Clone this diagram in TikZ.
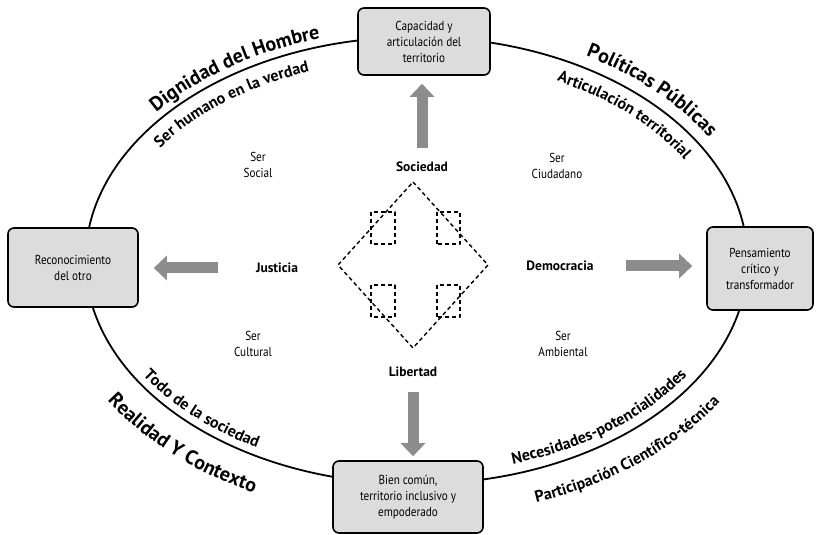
\documentclass[tikz,border=0pt]{standalone}
\usepackage{fontspec}
\setmainfont{PT Sans}
\newfontfamily\condfont{PT Sans}[FakeStretch=0.86]
\usetikzlibrary{arrows.meta,decorations.text}
\definecolor{boxgray}{HTML}{DCDCDC}
\definecolor{arrowgray}{HTML}{8C8C8C}
\newcommand{\bigcurvefont}{\bfseries\fontsize{20}{24}\selectfont}
\newcommand{\smallcurvefont}{\bfseries\fontsize{16}{19}\selectfont}

\begin{document}
\begin{tikzpicture}[x=1pt,y=1pt,line cap=butt,line join=round,
  box/.style={draw,line width=1.6pt,rounded corners=6pt,fill=boxgray,align=center,inner sep=2pt,font=\condfont\fontsize{13}{16}\selectfont},
  key/.style={inner sep=0pt,font=\bfseries\fontsize{13.5}{16}\selectfont},
  ser/.style={inner sep=0pt,align=center,font=\condfont\fontsize{13}{16}\selectfont},
  bigarrow/.style={arrowgray,line width=11pt,-{Triangle[width=24pt,length=13pt]}},
  dashline/.style={line width=1.4pt,dash pattern=on 4pt off 3pt},
  curvetext/.style={decorate,decoration={text along path,text align=center,text={#1}}}]
\useasboundingbox (0,0) rectangle (817,535);
% ellipse and the texts that follow it
\begin{scope}[shift={(416.5,274.5)}]
  \draw[line width=1.8pt] (0,0) ellipse [x radius=331pt,y radius=223.5pt];
  \path[curvetext={|\bigcurvefont|Dignidad del Hombre}] (152:339pt and 231.5pt) arc[start angle=152,end angle=97,x radius=339pt,y radius=231.5pt];
  \path[curvetext={|\smallcurvefont|Ser humano en la verdad}] (159:309pt and 201.5pt) arc[start angle=159,end angle=100.5,x radius=309pt,y radius=201.5pt];
  \path[curvetext={|\bigcurvefont|Políticas Públicas}] (70.3:343pt and 235.5pt) arc[start angle=70.3,end angle=19,x radius=343pt,y radius=235.5pt];
  \path[curvetext={|\smallcurvefont|Articulación territorial}] (73:309pt and 201.5pt) arc[start angle=73,end angle=16.5,x radius=309pt,y radius=201.5pt];
  \path[curvetext={|\smallcurvefont|Todo de la sociedad}] (199.4:323pt and 215.5pt) arc[start angle=199.4,end angle=250.3,x radius=323pt,y radius=215.5pt];
  \path[curvetext={|\bigcurvefont|Realidad Y Contexto}] (200:367pt and 259.5pt) arc[start angle=200,end angle=253.8,x radius=367pt,y radius=259.5pt];
  \path[curvetext={|\smallcurvefont|Necesidades-potencialidades}] (279:321pt and 213.5pt) arc[start angle=279,end angle=338.6,x radius=321pt,y radius=213.5pt];
  \path[curvetext={|\smallcurvefont|Participación Científico-técnica}] (281.3:364pt and 256.5pt) arc[start angle=281.3,end angle=336.4,x radius=364pt,y radius=256.5pt];
\end{scope}
% the four boxes
\node[box,minimum width=132pt,minimum height=67pt] (topbox) at (424,493.5) {Capacidad y\\articulación del\\territorio};
\node[box,minimum width=130pt,minimum height=79pt] (leftbox) at (73,267.5) {Reconocimiento\\del otro};
\node[box,minimum width=106pt,minimum height=83pt] (rightbox) at (760,266.5) {Pensamiento\\crítico y\\transformador};
\node[box,minimum width=150pt,minimum height=72pt] (bottombox) at (408,38) {Bien común,\\territorio inclusivo y\\empoderado};
% labels in the middle
\node[key] (soc) at (422,368) {Sociedad};
\node[key] (jus) at (277,267) {Justicia};
\node[key] (dem) at (560,269) {Democracia};
\node[key] (lib) at (413,163) {Libertad};
\node[ser] (sersocial) at (258,370) {Ser\\Social};
\node[ser] (serciudadano) at (557,369) {Ser\\Ciudadano};
\node[ser] (sercultural) at (253,191) {Ser\\Cultural};
\node[ser] (serambiental) at (563,191) {Ser\\Ambiental};
% dashed diamond with the four small squares
\draw[dashline] (413,353) -- (488,270) -- (413,187) -- (338,270) -- cycle;
\draw[dashline] (371,291) rectangle (395,323);
\draw[dashline] (437,291) rectangle (460,323);
\draw[dashline] (371,218) rectangle (395,250);
\draw[dashline] (437,218) rectangle (460,250);
% gray arrows
\draw[bigarrow,shorten <=14pt,shorten >=8pt] (soc.north) -- (soc.north |- topbox.south);
\draw[bigarrow,shorten <=15pt,shorten >=4pt] (lib.south) -- (lib.south |- bottombox.north);
\draw[bigarrow,shorten <=38pt,shorten >=15pt] (jus.west) -- (jus.west -| leftbox.east);
\draw[bigarrow,shorten <=32pt,shorten >=14pt] (dem.east) -- (dem.east -| rightbox.west);
\end{tikzpicture}
\end{document}
